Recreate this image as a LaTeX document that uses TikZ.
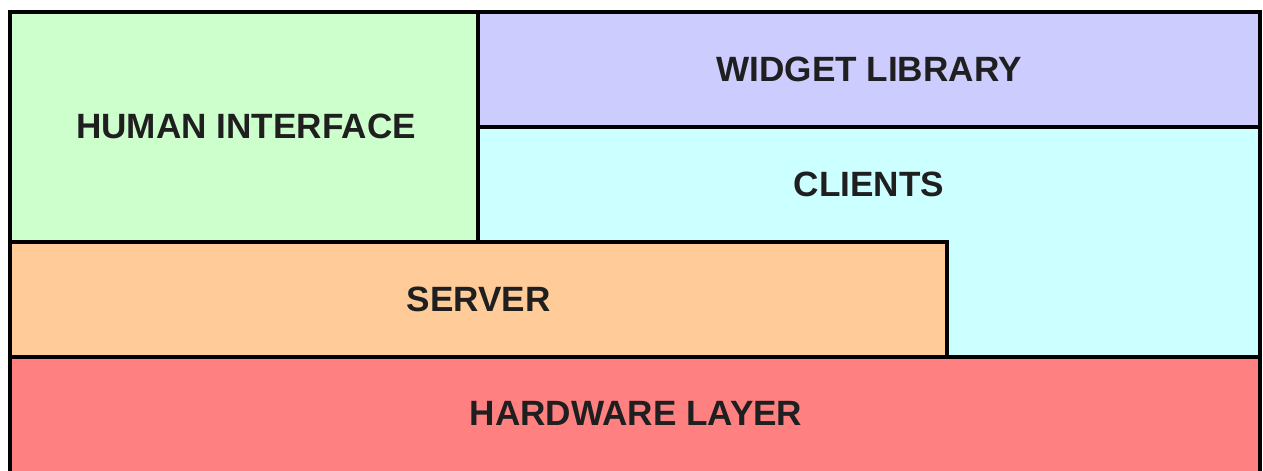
\documentclass[tikz,border=0pt]{standalone}
\usepackage{fontspec}
\setmainfont{Liberation Sans}
\usetikzlibrary{fit}

\definecolor{humangreen}{HTML}{CCFFCC}
\definecolor{widgetblue}{HTML}{CCCCFF}
\definecolor{clientcyan}{HTML}{CCFFFF}
\definecolor{serverorange}{HTML}{FFCC99}
\definecolor{hardwarered}{HTML}{FF8080}

\begin{document}
\begin{tikzpicture}[x=0.02cm, y=-0.02cm,
  layer/.style = {draw=black, line width=2.6pt, inner sep=0pt},
  caption/.style = {text=black!88, font=\bfseries\fontsize{20}{24}\selectfont}]
  \useasboundingbox (0,0) rectangle (1263,470);

  % layers, back to front
  \node[layer, fill=clientcyan, fit={(478,127) (1260,357)}] (clients) {};
  \node[layer, fill=serverorange, fit={(10,242) (947,357)}] (server) {};
  \node[layer, fill=humangreen, fit={(10,12) (478,242)}] (human) {};
  \node[layer, fill=widgetblue, fit={(478,12) (1260,127)}] (widget) {};
  \node[layer, fill=hardwarered, fit={(10,357) (1260,475)}] (hardware) {};

  % captions
  \node[caption] (humantext) at (246,126) {HUMAN INTERFACE};
  \node[caption] (widgettext) at (widget.center) {WIDGET LIBRARY};
  \node[caption] (clienttext) at (869,184) {CLIENTS};
  \node[caption] (servertext) at (server.center) {SERVER};
  \node[caption] (hardwaretext) at (636,413) {HARDWARE LAYER};
\end{tikzpicture}
\end{document}
